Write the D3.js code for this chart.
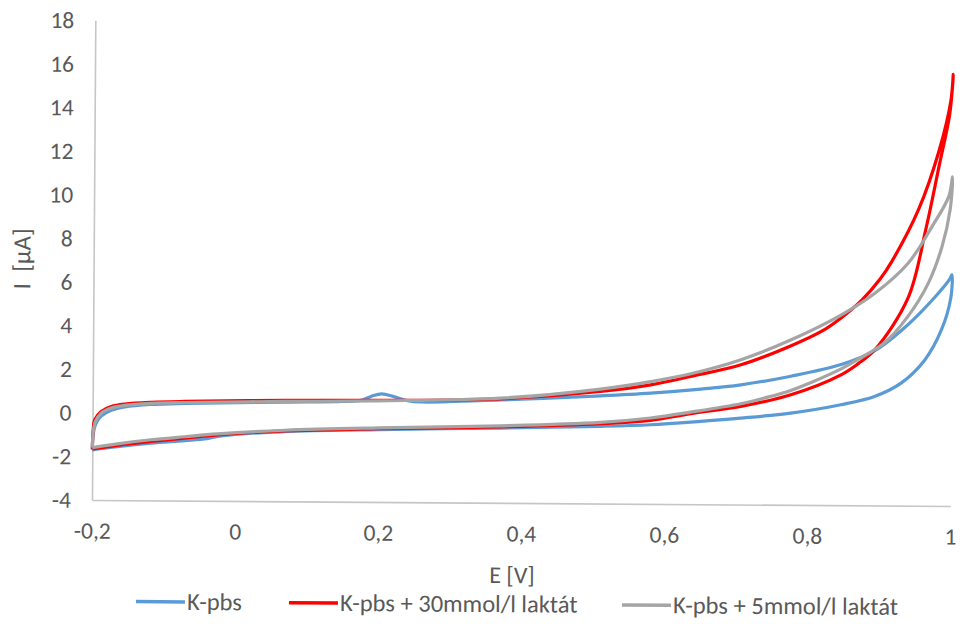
<!DOCTYPE html>
<html>
<head>
<meta charset="utf-8">
<script src="https://cdn.jsdelivr.net/npm/d3@7/dist/d3.min.js"></script>
<style>
  body { margin: 0; background: #fff; }
  svg text { font-family: Calibri, Carlito, Lato, sans-serif; fill: #595959; }
</style>
</head>
<body>
<div id="chart"></div>
<script>
// voltammograms: [E (V), I (uA)], forward scan then back
var kpbs = [
  [-0.2, -1.7], [-0.199, -1.0], [-0.196, -0.55], [-0.188, -0.15], [-0.174, 0.12],
  [-0.155, 0.28], [-0.118, 0.4], [-0.071, 0.46], [0.069, 0.55], [0.15, 0.6],
  [0.175, 0.66], [0.19, 0.85], [0.204, 0.96], [0.22, 0.85], [0.24, 0.66],
  [0.26, 0.6], [0.37, 0.72], [0.51, 0.94], [0.58, 1.08], [0.65, 1.28],
  [0.706, 1.49], [0.776, 1.9], [0.846, 2.45], [0.893, 3.1], [0.939, 4.3],
  [0.977, 5.59], [0.997, 6.4], [1.0, 6.6],
  [0.999, 5.6], [0.986, 4.08], [0.963, 2.69], [0.93, 1.62], [0.893, 1.0],
  [0.846, 0.61], [0.776, 0.21], [0.706, -0.04], [0.65, -0.2], [0.58, -0.37],
  [0.51, -0.46], [0.37, -0.57], [0.2, -0.68], [0.069, -0.8], [0, -0.95],
  [-0.025, -1.05], [-0.04, -1.15], [-0.071, -1.25], [-0.118, -1.38],
  [-0.165, -1.55], [-0.2, -1.7]
];
var kpbs30 = [
  [-0.2, -1.66], [-0.199, -0.8], [-0.197, -0.32], [-0.188, 0.06], [-0.174, 0.29],
  [-0.155, 0.41], [-0.118, 0.5], [-0.071, 0.55], [0.069, 0.63], [0.2, 0.66],
  [0.37, 0.77], [0.51, 1.14], [0.58, 1.46], [0.636, 1.86], [0.706, 2.41],
  [0.776, 3.3], [0.82, 4.0], [0.846, 4.6], [0.874, 5.4], [0.9, 6.4],
  [0.916, 7.2], [0.953, 9.6], [0.981, 12.3], [0.997, 14.6], [1.0, 15.8],
  [0.999, 15.2], [0.995, 13.87], [0.981, 11.57], [0.963, 8.66], [0.939, 5.53],
  [0.893, 3.14], [0.87, 2.5], [0.846, 1.98], [0.776, 1.05], [0.706, 0.5],
  [0.636, 0.15], [0.58, -0.17], [0.51, -0.34], [0.37, -0.52], [0.2, -0.64],
  [0.069, -0.77], [-0.025, -0.97], [-0.071, -1.13], [-0.118, -1.3],
  [-0.165, -1.49], [-0.2, -1.66]
];
var kpbs5 = [
  [-0.2, -1.6], [-0.199, -0.9], [-0.196, -0.4], [-0.188, -0.02], [-0.174, 0.22],
  [-0.155, 0.35], [-0.118, 0.45], [-0.071, 0.5], [0.069, 0.58], [0.2, 0.64],
  [0.37, 0.8], [0.51, 1.25], [0.58, 1.61], [0.636, 1.98], [0.706, 2.64],
  [0.776, 3.57], [0.846, 4.73], [0.893, 5.74], [0.939, 7.13], [0.972, 8.82],
  [0.995, 10.2], [1.0, 11.1],
  [0.997, 9.6], [0.986, 7.9], [0.967, 6.2], [0.939, 4.68], [0.906, 3.45],
  [0.869, 2.68], [0.846, 2.25], [0.81, 1.7], [0.776, 1.25], [0.74, 0.9],
  [0.706, 0.62], [0.636, 0.22], [0.58, -0.06], [0.51, -0.28], [0.37, -0.47],
  [0.2, -0.6], [0.069, -0.74], [-0.025, -0.93], [-0.071, -1.07],
  [-0.118, -1.22], [-0.165, -1.42], [-0.2, -1.6]
];
var seriesNames = ['K-pbs', 'K-pbs + 30mmol/l laktát', 'K-pbs + 5mmol/l laktát'];
var xTicks = [-0.2, 0, 0.2, 0.4, 0.6, 0.8, 1];
var yTicks = [-4, -2, 0, 2, 4, 6, 8, 10, 12, 14, 16, 18];

var width = 962, height = 624;
var colors = ['#5B9BD5', '#FF0000', '#A5A5A5'];
var series = [kpbs, kpbs30, kpbs5];

// czech style numbers: decimal comma, plain hyphen
var locale = d3.formatLocale({decimal: ',', thousands: ' ', grouping: [3], currency: ['', ''], minus: '-'});
var fmt = locale.format('~g');

var svg = d3.select('#chart').append('svg')
  .attr('width', width)
  .attr('height', height)
  .style('background', '#fff');

// the source picture is tilted a little clockwise
var g = svg.append('g')
  .attr('transform', 'rotate(0.4,' + width / 2 + ',' + height / 2 + ')');

var x = d3.scaleLinear().domain([-0.2, 1]).range([93.3, 951.6]);
var y = d3.scaleLinear().domain([-4, 18]).range([502.7, 23]);

var xAxis = g.append('g')
  .attr('transform', 'translate(0,' + y(-4) + ')')
  .call(d3.axisBottom(x).tickValues(xTicks).tickFormat(fmt).tickSize(0).tickPadding(22));
var yAxis = g.append('g')
  .attr('transform', 'translate(' + x(-0.2) + ',0)')
  .call(d3.axisLeft(y).tickValues(yTicks).tickFormat(fmt).tickSize(0).tickPadding(21));

[xAxis, yAxis].forEach(function(a) {
  a.select('.domain').attr('stroke', '#c6c6c6').attr('stroke-width', 1.6);
  a.selectAll('text').attr('fill', '#595959').style('font-size', '23.5px');
});

var line = d3.line()
  .x(function(d) { return x(d[0]); })
  .y(function(d) { return y(d[1]); })
  .curve(d3.curveCatmullRom.alpha(0.5));

g.selectAll('.cv')
  .data(series)
  .enter().append('path')
  .attr('class', 'cv')
  .attr('d', line)
  .attr('fill', 'none')
  .attr('stroke', function(d, i) { return colors[i]; })
  .attr('stroke-width', 3.2)
  .attr('stroke-linejoin', 'round');

// axis titles
g.append('text')
  .attr('x', 513.8).attr('y', 583)
  .attr('text-anchor', 'middle')
  .style('font-size', '24px')
  .text('E [V]');
g.append('text')
  .attr('transform', 'translate(30,262) rotate(-90)')
  .attr('text-anchor', 'middle')
  .style('font-size', '25px')
  .style('white-space', 'pre')
  .text('I  [µA]');

// legend
var legendX = [138, 291, 624];
var legend = g.selectAll('.leg')
  .data(seriesNames)
  .enter().append('g')
  .attr('class', 'leg')
  .attr('transform', function(d, i) { return 'translate(' + legendX[i] + ',604)'; });
legend.append('line')
  .attr('x1', 0).attr('x2', 49)
  .attr('stroke', function(d, i) { return colors[i]; })
  .attr('stroke-width', 3.5);
legend.append('text')
  .attr('x', 51).attr('y', 8)
  .style('font-size', '24.5px')
  .text(function(d) { return d; });
</script>
</body>
</html>
